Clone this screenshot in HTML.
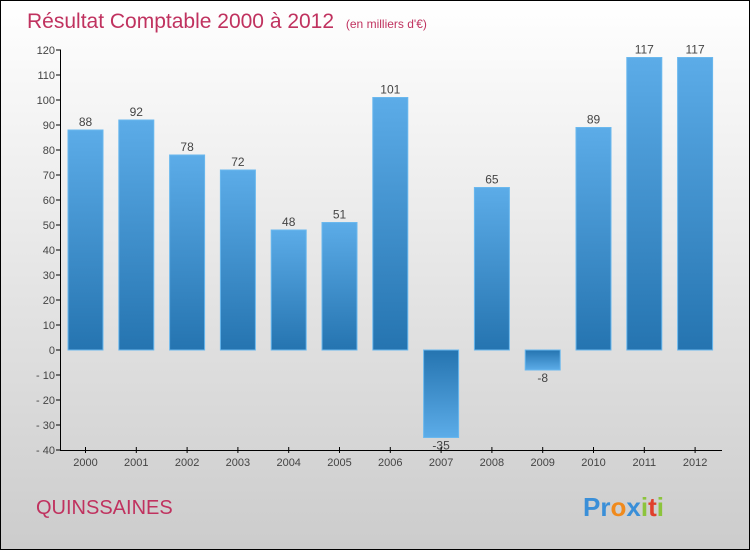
<!DOCTYPE html>
<html><head><meta charset="utf-8"><style>
body{margin:0;width:750px;height:550px;overflow:hidden}
svg{display:block;font-family:"Liberation Sans",sans-serif}
</style></head><body>
<svg id="c" width="750" height="550">
<defs>
<linearGradient id="bg" x1="0" y1="0" x2="0" y2="1"><stop offset="0" stop-color="#ffffff"/><stop offset="1" stop-color="#cccccc"/></linearGradient>
<linearGradient id="bp" x1="0" y1="0" x2="0" y2="1"><stop offset="0" stop-color="#5cace8"/><stop offset="1" stop-color="#2574b0"/></linearGradient>
<linearGradient id="bn" x1="0" y1="0" x2="0" y2="1"><stop offset="0" stop-color="#2574b0"/><stop offset="1" stop-color="#5cace8"/></linearGradient>
</defs>
<rect x="0.5" y="0.5" width="749" height="549" fill="url(#bg)" stroke="#000"/>
<text x="27" y="28" font-size="21" fill="#c0325f">Résultat Comptable 2000 à 2012 <tspan font-size="12" dx="6">(en milliers d'€)</tspan></text>
<text x="36" y="514" font-size="20" fill="#c0325f">QUINSSAINES</text>
<text x="583" y="516" font-size="26" font-weight="bold"><tspan fill="#3a8fd8">Pr</tspan><tspan fill="#f08a1c">o</tspan><tspan fill="#3a8fd8">x</tspan><tspan fill="#8cc43c">i</tspan><tspan fill="#e0402c">t</tspan><tspan fill="#8cc43c">i</tspan></text>
<g id="plot"></g>
</svg>
<script>
const years=["2000","2001","2002","2003","2004","2005","2006","2007","2008","2009","2010","2011","2012"];
const values=[88,92,78,72,48,51,101,-35,65,-8,89,117,117];
const yTicks=[120,110,100,90,80,70,60,50,40,30,20,10,0,-10,-20,-30,-40];
const NS="http://www.w3.org/2000/svg";
const g=document.getElementById('plot');
const yMin=-40,yMax=120,top0=50,bot=450;
const y=v=>bot-(v-yMin)/(yMax-yMin)*(bot-top0);
const x=i=>85.5+i*50.8;
function mk(t,a,p){const e=document.createElementNS(NS,t);for(const k in a)e.setAttribute(k,a[k]);(p||g).appendChild(e);return e;}
yTicks.forEach(t=>{
 const l=mk('line',{x1:56,x2:61,y1:y(t),y2:y(t),stroke:'#000'});
 
 
 const tx=mk('text',{x:55,y:y(t)+4,'text-anchor':'end','font-size':11,fill:'#444'});
 tx.textContent=t<0?'- '+(-t):t;
 
 
});
values.forEach((v,i)=>{
 const cx=x(i),y0=y(0),yv=y(v);
 const r=mk('rect',{x:cx-17.5,y:Math.min(y0,yv),width:35,height:Math.abs(y0-yv),fill:v>=0?'url(#bp)':'url(#bn)',stroke:'#6ab8ee','stroke-width':1});
 
 
 const lb=mk('text',{x:cx,y:v>=0?yv-4:yv+12,'text-anchor':'middle','font-size':12,fill:'#444'});
 lb.textContent=v;
 
 
 const tk=mk('line',{x1:cx,x2:cx,y1:bot-3,y2:bot+3,stroke:'#000'});
 
 
 const xl=mk('text',{x:cx,y:466,'text-anchor':'middle','font-size':11,fill:'#444'});
 xl.textContent=years[i];
 
 
});
const ya=mk('line',{x1:60.5,x2:60.5,y1:top0,y2:bot,stroke:'#000'});


const xa=mk('line',{x1:60,x2:722,y1:bot+0.5,y2:bot+0.5,stroke:'#000'});


</script>
</body></html>
